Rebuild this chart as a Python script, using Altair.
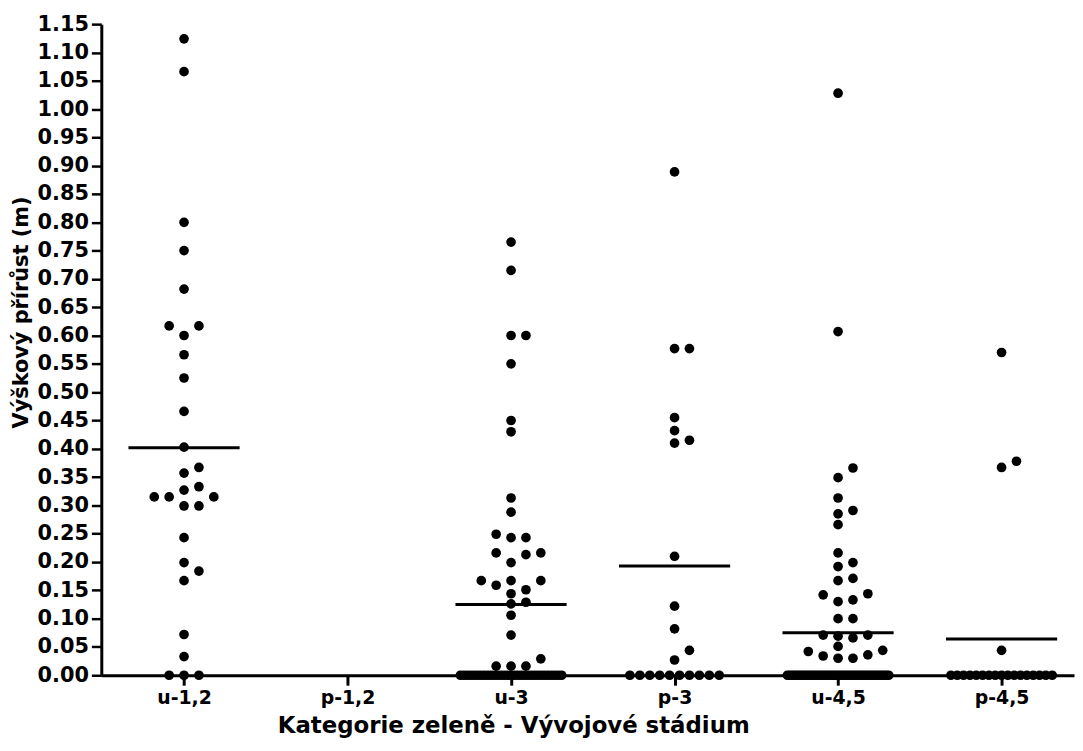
import altair as alt
import pandas as pd

# ---------------- data ----------------
categories = ["u-1,2", "p-1,2", "u-3", "p-3", "u-4,5", "p-4,5"]

u12_values = [1.124, 1.066, 0.800, 0.750, 0.682, 0.617, 0.617, 0.600, 0.566, 0.525,
              0.466, 0.403, 0.367, 0.357, 0.333, 0.327, 0.315, 0.315, 0.315, 0.299,
              0.299, 0.243, 0.199, 0.184, 0.167, 0.072, 0.033]
p12_values = []
u3_values = [0.765, 0.715, 0.600, 0.600, 0.550, 0.450, 0.430, 0.313, 0.288, 0.249,
             0.243, 0.243, 0.216, 0.216, 0.213, 0.199, 0.167, 0.167, 0.167, 0.159,
             0.151, 0.144, 0.129, 0.126, 0.106, 0.071, 0.029, 0.016, 0.016, 0.016]
p3_values = [0.889, 0.577, 0.577, 0.455, 0.432, 0.415, 0.410, 0.210, 0.122, 0.082,
             0.044, 0.027]
u45_values = [1.028, 0.607, 0.366, 0.349, 0.313, 0.291, 0.285, 0.266, 0.216, 0.199,
              0.192, 0.171, 0.167, 0.144, 0.142, 0.133, 0.130, 0.100, 0.100, 0.071,
              0.071, 0.069, 0.066, 0.051, 0.044, 0.042, 0.036, 0.034, 0.030, 0.030]
p45_values = [0.570, 0.378, 0.367, 0.044]

# number of observations equal to 0.00 in each category
zero_counts = [3, 0, 31, 10, 47, 17]
# mean lines
mean_values = [0.402, None, 0.125, 0.193, 0.075, 0.064]

series = [u12_values, p12_values, u3_values, p3_values, u45_values, p45_values]

y_ticks = [round(i * 0.05, 2) for i in range(24)]

# ---------------- layout ----------------
W, H = 980, 656
X_MIN, X_MAX = -0.506, 5.443
Y_MAX = 1.15
PX_PER_X = W / (X_MAX - X_MIN)
PX_PER_Y = H / Y_MAX
COL_PX = 15.0
DOT_PX = 9.8
MEAN_HALF = 56.0 / PX_PER_X


def swarm(values):
    """Simple column swarm: ascending values, columns 0,+1,-1,+2,..."""
    placed = []
    for v in sorted(values):
        for c in [0, 1, -1, 2, -2, 3, -3, 4, -4]:
            if all(not (pc == c and abs(pv - v) * PX_PER_Y < DOT_PX) for pv, pc in placed):
                break
        placed.append((v, c))
    return [(v, c * COL_PX) for v, c in placed]


def zero_row(n):
    if n == 0:
        return []
    if n <= 7:
        order = [0, 1, -1, 2, -2, 3, -3]
        return [(0.0, order[k] * COL_PX) for k in range(n)]
    half = 45.0 if n <= 15 else 51.0
    return [(0.0, -half + 2 * half * k / (n - 1)) for k in range(n)]


rows = []
for i, (cat, vals) in enumerate(zip(categories, series)):
    for v, off in zero_row(zero_counts[i]) + swarm(vals):
        rows.append({"cat": cat, "x": i + off / PX_PER_X, "y": v})
points = pd.DataFrame(rows)

mrows = []
for i, m in enumerate(mean_values):
    if m is not None:
        mrows.append({"cat": categories[i], "x": i - MEAN_HALF, "x2": i + MEAN_HALF, "y": m})
means = pd.DataFrame(mrows)

label_expr = "[" + ",".join("'" + c + "'" for c in categories) + "][datum.value]"

FONT = "DejaVu Sans"

x_scale = alt.Scale(domain=[X_MIN, X_MAX], nice=False, zero=False)
y_scale = alt.Scale(domain=[0, Y_MAX], nice=False, zero=False)

x_axis = alt.Axis(
    values=list(range(len(categories))),
    labelExpr=label_expr,
    title="Kategorie zeleně - Vývojové stádium",
    grid=False,
    domainColor="black", domainWidth=3,
    tickColor="black", tickWidth=3, tickSize=10,
    labelFont=FONT, labelFontSize=19, labelFontWeight="bold", labelColor="black",
    labelPadding=3, labelFlush=False, labelOverlap=False,
    titleFont=FONT, titleFontSize=23, titleFontWeight="bold", titleColor="black",
    titleX=415, titleY=51, titleBaseline="middle", titleAnchor="middle", titleAlign="center",
)
y_axis = alt.Axis(
    values=y_ticks,
    format=".2f",
    title="Výškový přírůst (m)",
    grid=False,
    domainColor="black", domainWidth=3,
    tickColor="black", tickWidth=2.5, tickSize=10,
    labelFont=FONT, labelFontSize=21, labelFontWeight="bold", labelColor="black",
    labelPadding=3, labelFlush=False, labelOverlap=False,
    titleFont=FONT, titleFontSize=21, titleFontWeight="bold", titleColor="black",
    titleAngle=270, titleX=-80, titleY=290, titleBaseline="middle", titleAlign="center",
)

pts = alt.Chart(points).mark_circle(size=95, color="black", opacity=1).encode(
    x=alt.X("x:Q", scale=x_scale, axis=x_axis),
    y=alt.Y("y:Q", scale=y_scale, axis=y_axis),
)
mean_lines = alt.Chart(means).mark_rule(color="black", strokeWidth=3).encode(
    x=alt.X("x:Q", scale=x_scale, axis=x_axis),
    x2="x2:Q",
    y=alt.Y("y:Q", scale=y_scale, axis=y_axis),
)

chart = alt.layer(pts, mean_lines).properties(
    width=W, height=H,
    padding={"left": 94, "top": 13.5, "right": 1, "bottom": 65},
    autosize=alt.AutoSizeParams(type="none"),
    background="white",
).configure_view(stroke=None)

chart.save("out.html", embed_options={"renderer": "svg", "actions": False})
